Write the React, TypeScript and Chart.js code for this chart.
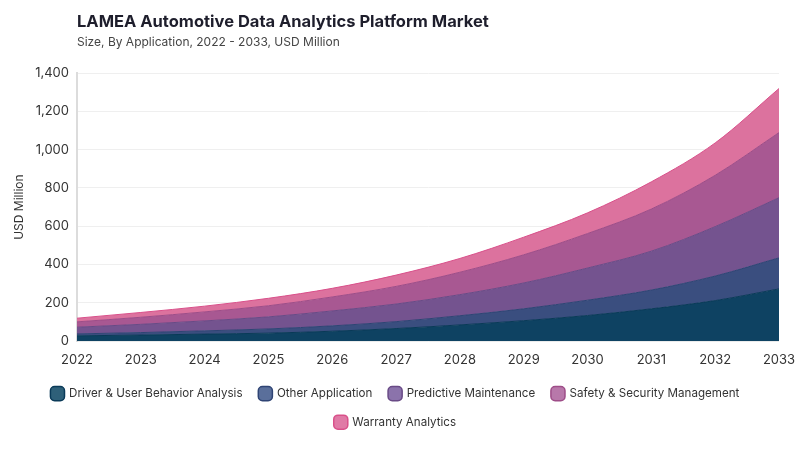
import { useEffect, useRef } from 'react';
import { Chart, registerables } from 'chart.js';

Chart.register(...registerables);

const years = ['2022', '2023', '2024', '2025', '2026', '2027', '2028', '2029', '2030', '2031', '2032', '2033'];

const driverBehavior = [28, 32, 37, 42, 52, 66, 85, 107, 134, 169, 212, 273];
const otherApplication = [10, 13, 17, 22, 28, 36, 48, 62, 80, 98, 128, 162];
const predictiveMaintenance = [35, 43, 52, 63, 78, 92, 110, 135, 168, 203, 258, 314];
const safetySecurity = [28, 37, 47, 58, 73, 92, 117, 147, 180, 220, 268, 340];
const warrantyAnalytics = [19, 25, 30, 39, 45, 59, 72, 92, 108, 142, 169, 230];

const yTicks = [0, 200, 400, 600, 800, 1000, 1200, 1400];

const FONT = 'Inter, "DejaVu Sans", sans-serif';

const series = [
  { label: 'Driver & User Behavior Analysis', data: driverBehavior, fill: '#0e4262', line: '#0a3a58', swatch: '#2e6079' },
  { label: 'Other Application', data: otherApplication, fill: '#3a4e7f', line: '#2f4474', swatch: '#5a6f9b' },
  { label: 'Predictive Maintenance', data: predictiveMaintenance, fill: '#74538f', line: '#694a86', swatch: '#8b73ab' },
  { label: 'Safety & Security Management', data: safetySecurity, fill: '#a85892', line: '#9e4d88', swatch: '#b878aa' },
  { label: 'Warranty Analytics', data: warrantyAnalytics, fill: '#dc729e', line: '#d9508a', swatch: '#e07aa6' },
];

export default function App() {
  const canvasRef = useRef<HTMLCanvasElement>(null);
  const chartRef = useRef<Chart | null>(null);

  useEffect(() => {
    document.body.style.margin = '0';
    if (!canvasRef.current) return;
    chartRef.current?.destroy();

    chartRef.current = new Chart(canvasRef.current, {
      type: 'line',
      data: {
        labels: years,
        datasets: series.map((s, i) => ({
          label: s.label,
          data: s.data,
          backgroundColor: s.fill,
          borderColor: s.line,
          borderWidth: 1,
          fill: i === 0 ? 'origin' : '-1',
          pointRadius: 0,
          cubicInterpolationMode: 'monotone' as const,
        })),
      },
      options: {
        animation: false,
        responsive: false,
        maintainAspectRatio: false,
        layout: { padding: { top: 73, left: 12, right: 21, bottom: 12 } },
        plugins: {
          tooltip: { enabled: false },
          legend: {
            position: 'bottom',
            labels: {
              usePointStyle: true,
              pointStyle: 'rectRounded',
              boxWidth: 14,
              boxHeight: 14,
              padding: 17,
              color: '#333',
              font: { family: FONT, size: 11.6 },
              generateLabels: () =>
                series.map((s, i) => ({
                  text: s.label,
                  fillStyle: s.swatch,
                  strokeStyle: s.line,
                  lineWidth: 1.5,
                  pointStyle: 'rectRounded',
                  hidden: false,
                  datasetIndex: i,
                  fontColor: '#333',
                })),
            },
          },
        },
        scales: {
          x: {
            grid: { display: false },
            border: { display: false },
            offset: false,
            ticks: { color: '#333', font: { family: FONT, size: 13 }, padding: 3, maxRotation: 0 },
          },
          y: {
            stacked: true,
            min: 0,
            max: 1400,
            afterFit: (scale) => {
              scale.width = 65;
            },
            afterBuildTicks: (scale) => {
              scale.ticks = yTicks.map((v) => ({ value: v }));
            },
            grid: { color: '#efefef', drawTicks: false },
            border: { display: true, color: '#dcdcdc', width: 2 },
            title: {
              display: true,
              text: 'USD Million',
              color: '#333',
              font: { family: FONT, size: 12 },
              padding: 0,
            },
            ticks: {
              color: '#333',
              font: { family: FONT, size: 13 },
              padding: 8,
              callback: (v) => Number(v).toLocaleString('en-US'),
            },
          },
        },
      },
    });

    return () => {
      chartRef.current?.destroy();
      chartRef.current = null;
    };
  }, []);

  return (
    <div style={{ position: 'relative', width: 800, height: 450, background: '#fff', fontFamily: FONT }}>
      <div style={{ position: 'absolute', left: 77, top: 11, fontSize: 16.5, fontWeight: 700, color: '#1e1e2c' }}>
        LAMEA Automotive Data Analytics Platform Market
      </div>
      <div style={{ position: 'absolute', left: 77, top: 34, fontSize: 12, color: '#444' }}>
        Size, By Application, 2022 - 2033, USD Million
      </div>
      <canvas ref={canvasRef} width={800} height={450} style={{ display: 'block' }} />
    </div>
  );
}
